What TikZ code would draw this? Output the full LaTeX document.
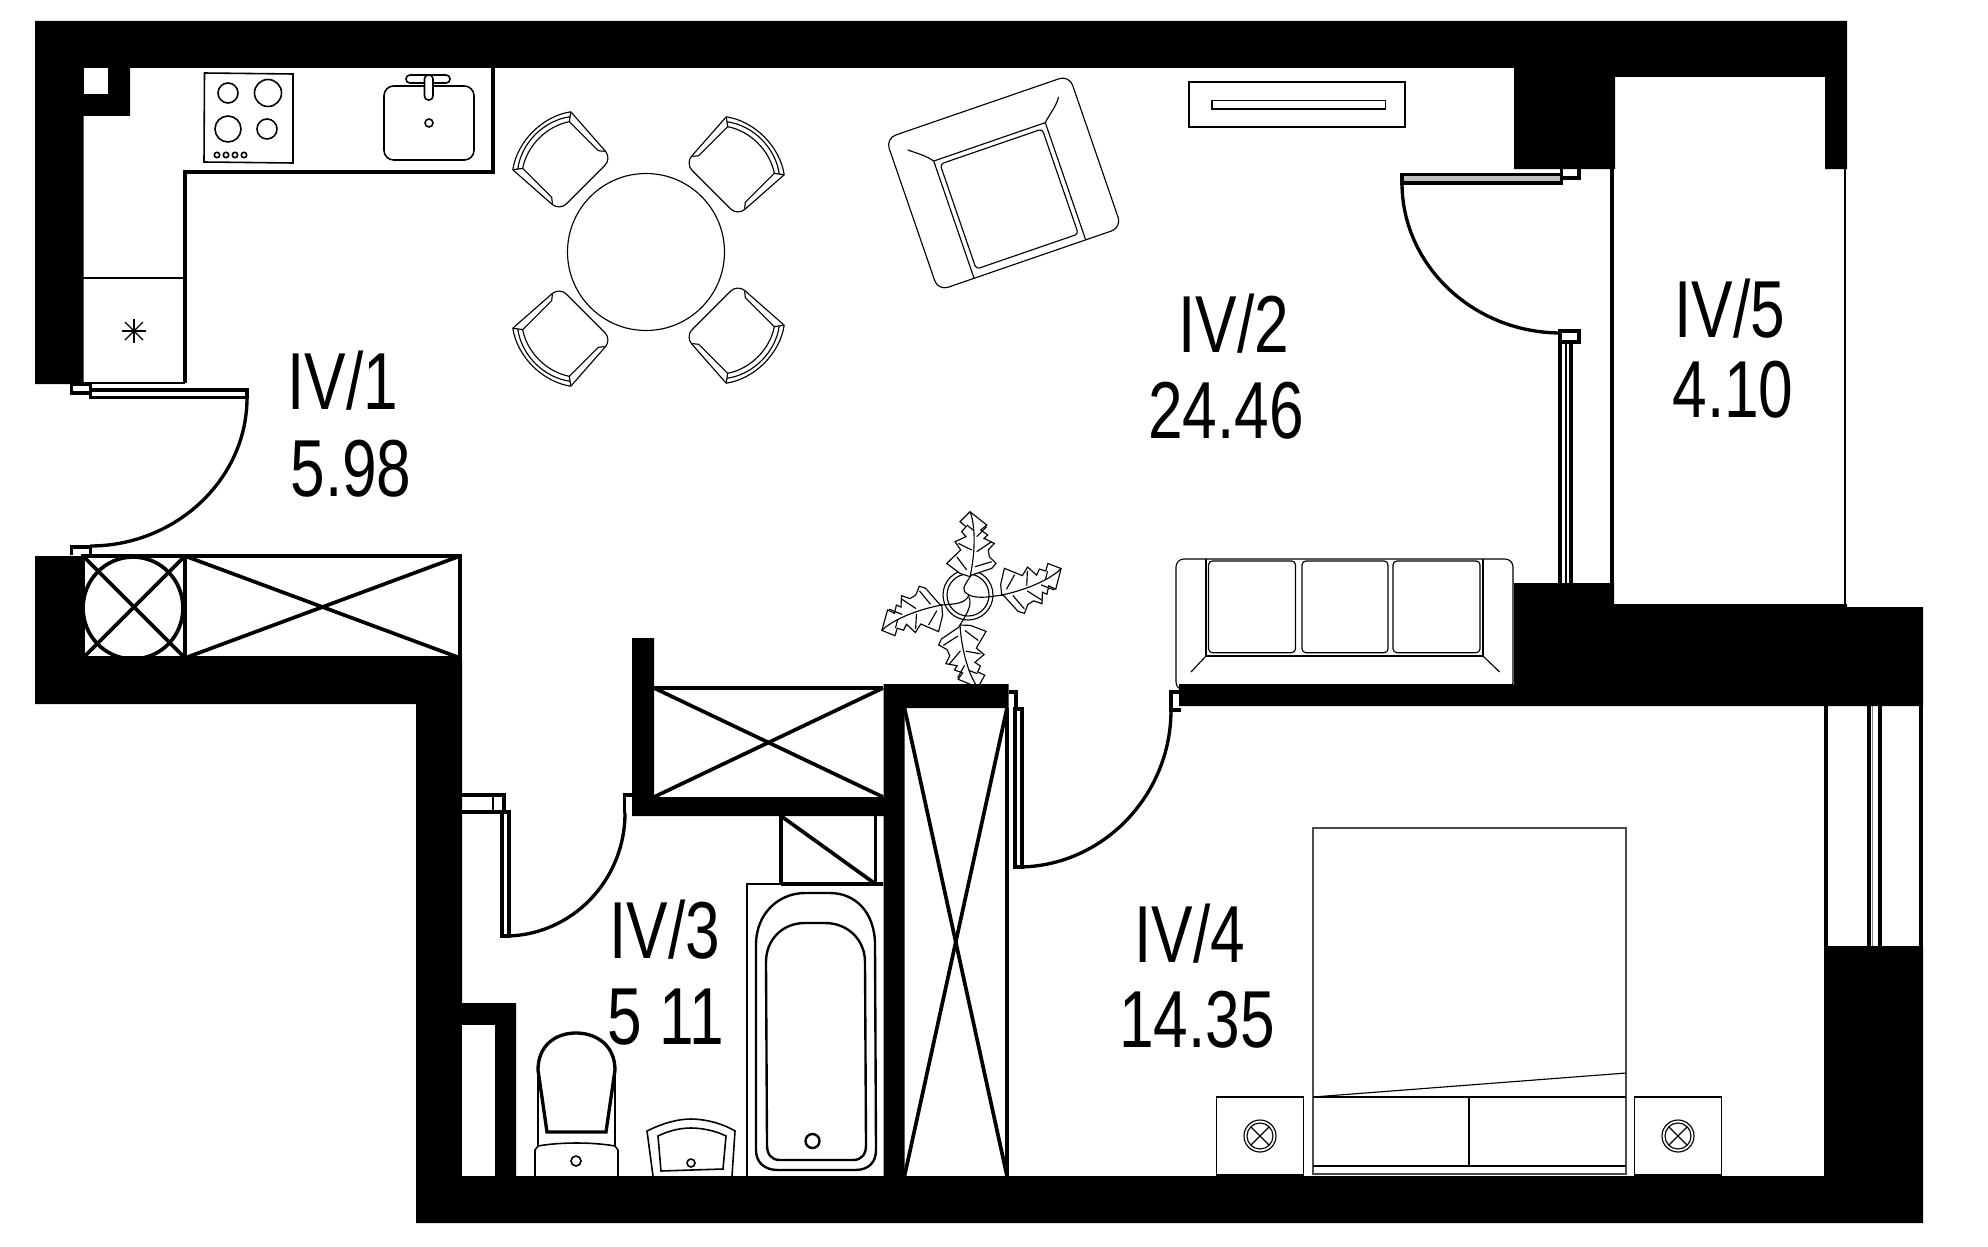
\documentclass[tikz,border=0pt]{standalone}
\usepackage{fontspec}
\setmainfont{Liberation Sans}

\tikzset{
  wallfill/.style={fill=black, draw=none},
  hair/.style={draw=black, line width=0.65pt},
  thinline/.style={draw=black, line width=0.9pt},
  fixtureline/.style={draw=black, line width=1.35pt},
  doorline/.style={draw=black, line width=1.9pt},
  shaftline/.style={draw=black, line width=2.1pt},
  roomtext/.style={anchor=base, inner sep=0pt, xscale=0.77, font=\fontsize{46}{54}\selectfont}
}

% chair: position, direction
\newcommand{\diningchair}[2]{
\begin{scope}[shift={#1}, rotate=#2]
\draw[hair, rounded corners=5.5pt] (30,-41) -- (-32,-37) -- (-32,37) -- (30,41);
\draw[hair] (30,41) .. controls (47,18) and (47,-18) .. (30,-41);
\draw[hair] (27,37) .. controls (43,16) and (43,-16) .. (27,-37);
\draw[hair] (24,33) .. controls (37,14) and (37,-14) .. (24,-33);
\draw[hair] (30,41) -- (24,33) -- (-17,33) -- (-22,37);
\draw[hair] (30,-41) -- (24,-33) -- (-17,-33) -- (-22,-37);
\end{scope}
}

% leaf: base, direction
\newcommand{\plantleaf}[2]{
\begin{scope}[shift={#1}, rotate=#2]
\draw[hair, fill=white] (0,0) -- (-10,-3.3) -- (-23.3,-13.3) -- (-9.3,-26.7) -- (-15,-35) -- (-4,-40) -- (-8.3,-45) -- (-4,-50) -- (-10,-55) -- (0,-65) -- (16.7,-51.7) -- (10.7,-46.7) -- (17.7,-41.7) -- (14,-38.3) -- (24.3,-33.3) -- (18.3,-26.7) -- (19.3,-20) -- (26,-13.3) -- (21.7,-8.3) -- (1.7,-1.7) -- cycle;
\draw[hair] (0,-65) .. controls (5,-53) and (6,-27) .. (0,0);
\draw[hair] (-11.7,-33.3) -- (1.7,-26.7);
\draw[hair] (-13.3,-20) -- (-3.3,-6.7);
\draw[hair] (5,-10) -- (21.7,-15);
\draw[hair] (6.7,-25) -- (21.7,-35);
\draw[hair] (6.7,-40) -- (16.7,-50);
\draw[hair] (-3.3,-51.7) -- (4,-46);
\end{scope}
}

% bedside table
\newcommand{\bedside}[2]{
\draw[hair] (#1-43.5,1097) rectangle (#1+43.5,1175);
\draw[hair] (#1,#2) circle (16);
\draw[hair] (#1,#2) circle (13);
\draw[hair] (#1-9,#2-9) -- (#1+9,#2+9);
\draw[hair] (#1-9,#2+9) -- (#1+9,#2-9);
}

\begin{document}
\begin{tikzpicture}[x=0.02cm, y=-0.02cm]
\useasboundingbox (0,0) rectangle (1988,1247);

% kitchen
\draw[thinline] (83,278) -- (185,278);
\draw[thinline] (83,383) -- (185,383);
\draw[doorline] (493,68) -- (493,172) -- (185,172) -- (185,383);
\draw[hair] (122,331) -- (146,331);
\draw[hair] (134,319) -- (134,343);
\draw[hair] (125,322) -- (143,340);
\draw[hair] (125,340) -- (143,322);
\draw[thinline] (204.5,73) -- (293,74) -- (293,163) -- (204,162) -- cycle;
\draw[thinline] (228,93) circle (10);
\draw[thinline] (268,93) circle (13.5);
\draw[thinline] (228,129) circle (13);
\draw[thinline] (267,129) circle (10);
\draw[thinline] (217,155) circle (2.7);
\draw[thinline] (226,155) circle (2.7);
\draw[thinline] (235,155) circle (2.7);
\draw[thinline] (244,155) circle (2.7);
\draw[thinline, rounded corners=5.5pt] (384,86) rectangle (474,160);
\draw[thinline, rounded corners=2.2pt] (406,75) rectangle (450,83);
\draw[thinline, fill=white, rounded corners=2.2pt] (424.5,75) rectangle (433,100);
\draw[thinline] (429,123) circle (4);

% table and chairs
\draw[hair] (646,252) circle (78.5);
\diningchair{(563,162)}{135}
\diningchair{(734,167)}{45}
\diningchair{(563,336)}{225}
\diningchair{(734,333)}{-45}

% armchair
\begin{scope}[shift={(1003.5,182.5)}, rotate=19]
\draw[hair, rounded corners=6pt] (-97,-80) rectangle (97,81);
\draw[hair, rounded corners=2pt] (-54,-38) rectangle (54,73);
\draw[hair] (-80,-62) .. controls (-70,-54) and (-64,-50) .. (-59,-43) -- (-59,81);
\draw[hair] (80,-63) .. controls (74,-54) and (66,-50) .. (59,-43) -- (59,81);
\draw[hair] (-59,-43) -- (59,-43);
\end{scope}

% air conditioner
\draw[fixtureline] (1189,82) rectangle (1405,127);
\draw[thinline] (1212,100.7) rectangle (1385.6,109);

% sofa
\draw[hair, rounded corners=4.5pt] (1176,559) rectangle (1513,690);
\draw[hair] (1206,559) -- (1206,656) -- (1483,656) -- (1483,559);
\draw[hair] (1206,656) -- (1191,672);
\draw[hair] (1483,656) -- (1499.6,672);
\draw[hair, rounded corners=2.2pt] (1208.5,561) rectangle (1295.5,652.7);
\draw[hair, rounded corners=2.2pt] (1302,561) rectangle (1388,652.7);
\draw[hair, rounded corners=2.2pt] (1393,561) rectangle (1480,652.7);

% plant
\draw[hair] (968,595) circle (25);
\draw[hair] (968,595) circle (21);
\draw[hair] (970,576.7) .. controls (964,587) and (960,590) .. (969,595);
\draw[hair] (1001.7,595) .. controls (985,598) and (975,598) .. (969,595);
\draw[hair] (941.7,605) .. controls (955,604) and (965,604) .. (969,595);
\draw[hair] (960,625) .. controls (968,612) and (972,605) .. (969,597);
\plantleaf{(970,576.7)}{0}
\plantleaf{(1001.7,595)}{-66}
\plantleaf{(941.7,605)}{113}
\plantleaf{(960,625)}{-164}

% bed
\draw[draw=black!70, line width=0.9pt] (1313,828) rectangle (1626,1174);
\draw[hair] (1313,1097) -- (1626,1097);
\draw[hair] (1313,1097) -- (1626,1073);
\draw[hair] (1469,1097) -- (1469,1166);
\draw[hair] (1313,1166) -- (1626,1166);
\bedside{1260}{1136}
\bedside{1678}{1136}

% bath
\draw[thinline] (747,1176) -- (747,884) -- (883,884);
\draw[fixtureline] (756,945) .. controls (756,912) and (780,893) .. (805,893) -- (830,893) .. controls (855,893) and (875,912) .. (875,945) -- (876,1150) .. controls (876,1163) and (868,1170) .. (855,1170) -- (778,1170) .. controls (765,1170) and (756,1163) .. (756,1150) -- cycle;
\draw[fixtureline] (766,962) .. controls (766,940) and (782,923) .. (805,923) -- (825,923) .. controls (848,923) and (865,940) .. (865,962) -- (866,1145) .. controls (866,1154) and (862,1160) .. (853,1160) -- (780,1160) .. controls (771,1160) and (767,1154) .. (767,1145) -- cycle;
\draw[fixtureline] (812.5,1141) circle (7);

% toilet
\draw[doorline] (538,1070) .. controls (538,1045) and (556,1033) .. (576,1033) .. controls (596,1033) and (615,1045) .. (615,1070) -- (606,1132) -- (547,1132) -- cycle;
\draw[thinline] (538,1070) -- (538,1146);
\draw[thinline] (615,1070) -- (615,1146);
\draw[thinline] (535,1176) -- (535,1150) -- (538,1146) .. controls (560,1142) and (593,1142) .. (615,1146) -- (618,1150) -- (618,1176);
\draw[thinline] (576,1161) circle (5);

% basin
\draw[thinline] (653,1176) -- (647,1131) .. controls (665,1122) and (680,1119) .. (691,1119) .. controls (702,1119) and (720,1122) .. (735,1131) -- (732,1176);
\draw[thinline] (661,1171) -- (658,1136) .. controls (670,1130) and (682,1128) .. (691,1128) .. controls (700,1128) and (714,1130) .. (726,1136) -- (723,1169) -- cycle;
\draw[thinline] (691,1163) circle (4);

% shafts
\draw[shaftline] (83,556) rectangle (185,658);
\draw[shaftline] (185,556) rectangle (460,658);
\draw[shaftline] (133,608) ellipse (50 and 51);
\draw[shaftline] (83,556) -- (185,658);
\draw[shaftline] (83,658) -- (185,556);
\draw[shaftline] (185,556) -- (460,658);
\draw[shaftline] (185,658) -- (460,556);
\draw[shaftline] (654,688) -- (883,688);
\draw[shaftline] (654,688) -- (883,797);
\draw[shaftline] (654,797) -- (883,688);
\draw[shaftline] (1007,708) -- (1007,1176);
\draw[shaftline] (904.5,708) -- (1007,1176);
\draw[shaftline] (904.5,1176) -- (1007,708);
\draw[shaftline] (781,884) -- (781,816) -- (875.5,884) -- (883,884);
\draw[shaftline] (781,884) -- (875.5,884) -- (875.5,816);

% walls
\fill[wallfill] (35,21) -- (1847,21) -- (1847,169) -- (1825,169) -- (1825,77) -- (1615,77) -- (1615,169) -- (1514,169) -- (1514,68) -- (130,68) -- (130,116) -- (83.5,116) -- (83.5,384) -- (35,384) -- cycle;
\fill[white] (83.5,68) rectangle (108,94);
\fill[wallfill] (35,556) -- (83.5,556) -- (83.5,658) -- (462,658) -- (462,1003) -- (516,1003) -- (516,1176) -- (1824,1176) -- (1824,946) -- (1923,946) -- (1923,1223) -- (416,1223) -- (416,704) -- (35,704) -- cycle;
\fill[white] (461.6,1025) rectangle (494.6,1176);
\fill[wallfill] (1179,684) -- (1514,684) -- (1514,583) -- (1614,583) -- (1614,604) -- (1847,604) -- (1847,607) -- (1923,607) -- (1923,706) -- (1179,706) -- cycle;
\fill[wallfill] (632,638) -- (654,638) -- (654,797) -- (883.5,797) -- (883.5,684) -- (1008.5,684) -- (1008.5,708) -- (904.5,708) -- (904.5,1176) -- (883.5,1176) -- (883.5,816) -- (632,816) -- cycle;

% balcony and windows
\draw[doorline] (1612,169) -- (1612,583);
\draw[fixtureline] (1845,169) -- (1845,604);
\draw[doorline] (1560,342) -- (1560,583);
\draw[thinline] (1566,342) -- (1566,583);
\draw[doorline] (1571,342) -- (1571,583);
\draw[doorline] (1826,706) -- (1826,946);
\draw[doorline] (1869,706) -- (1869,946);
\draw[draw=gray, line width=0.9pt] (1872.5,706) -- (1872.5,946);
\draw[doorline] (1880,706) -- (1880,946);
\draw[doorline] (1921,706) -- (1921,946);

% doors
\draw[doorline] (71.4,384) rectangle (90.6,393);
\draw[doorline, fill=white] (90.6,390) rectangle (247,397.5);
\draw[doorline] (247,398) .. controls (247,479) and (176,546) .. (90,546);
\draw[doorline] (71.4,555) -- (71.4,547) -- (90.6,547) -- (90.6,555);
\draw[doorline] (1561.5,169) -- (1561.5,178) -- (1579,178) -- (1579,169);
\draw[doorline, fill=lightgray] (1402,174.5) rectangle (1561.5,183);
\draw[doorline] (1402,183) .. controls (1402,265) and (1473,333) .. (1561,333);
\draw[doorline] (1560,331) rectangle (1579,342);
\draw[doorline] (461.6,795) -- (504,795) -- (504,813);
\draw[doorline] (461.6,812) -- (509,812);
\draw[thinline] (493,795) -- (493,812);
\draw[doorline, fill=white] (502,812) rectangle (509,936);
\draw[doorline] (505,936) .. controls (571,936) and (625,881) .. (625,813);
\draw[doorline] (632,795) -- (624.6,795) -- (624.6,813);
\draw[doorline] (1008.5,692) -- (1016,692) -- (1016,709);
\draw[doorline, fill=white] (1015,709) rectangle (1022,867);
\draw[doorline] (1018,867) .. controls (1102,867) and (1171,796) .. (1171,710);
\draw[doorline] (1179,692) -- (1171,692) -- (1171,710) -- (1181,710);

% rooms
\node[roomtext] (room1) at (343,409) {IV/1};
\node[roomtext] (area1) at (351,496) {5.98};
\node[roomtext] (room2) at (1234,352) {IV/2};
\node[roomtext] (area2) at (1226,438) {24.46};
\node[roomtext] (room3) at (665,958) {IV/3};
\node[roomtext] (area3) at (666,1044) {5 11};
\node[roomtext] (room4) at (1190,962) {IV/4};
\node[roomtext] (area4) at (1197,1047) {14.35};
\node[roomtext] (room5) at (1730,337) {IV/5};
\node[roomtext] (area5) at (1733,417) {4.10};
\end{tikzpicture}
\end{document}
